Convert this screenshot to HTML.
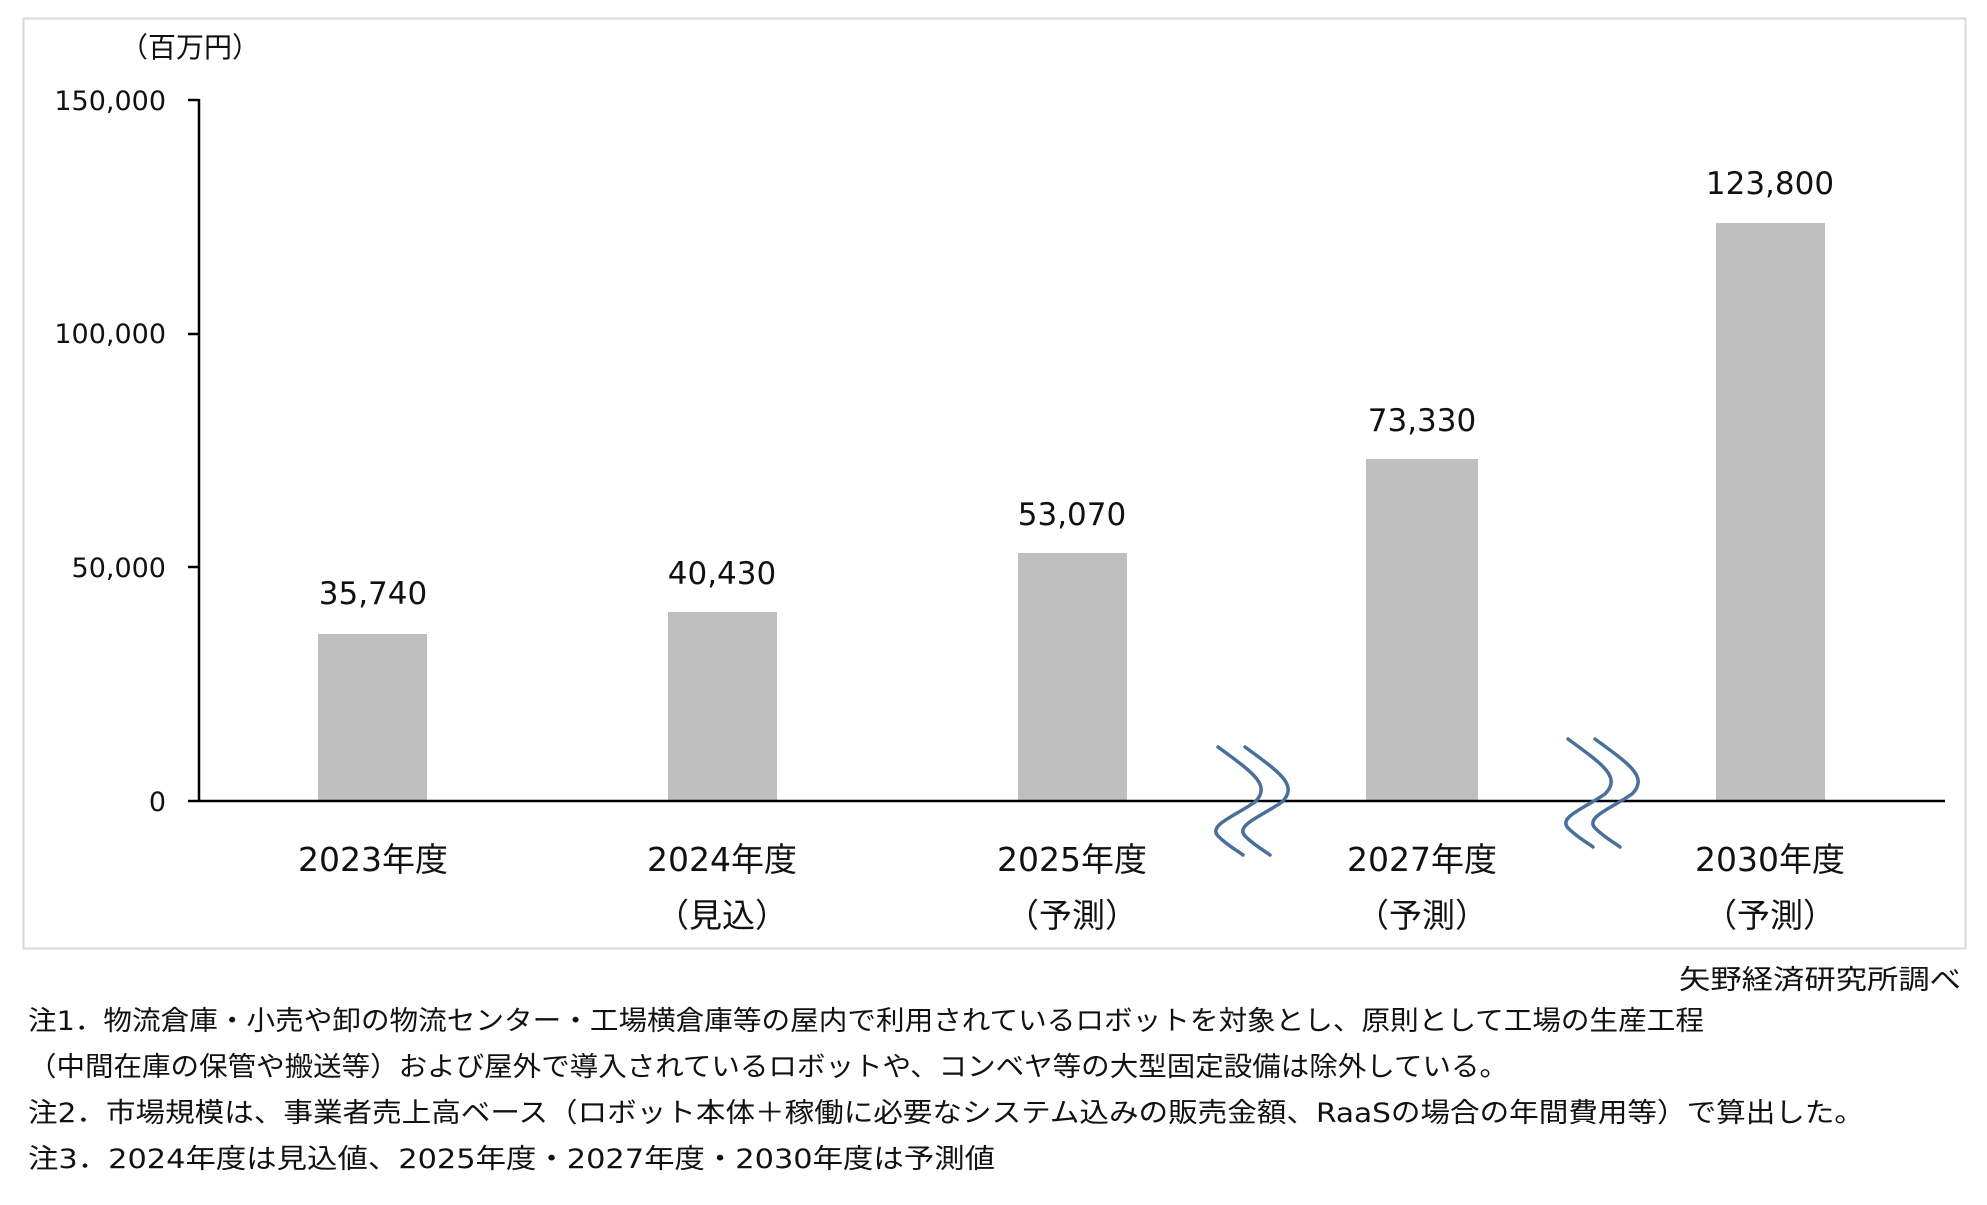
<!DOCTYPE html>
<html><head><meta charset="utf-8"><style>
html,body{margin:0;padding:0;background:#fff}
svg text{font-family:"DejaVu Sans","Noto Sans CJK JP",sans-serif;fill:#111}
</style></head><body>
<svg width="1987" height="1200" viewBox="0 0 1987 1200" xmlns="http://www.w3.org/2000/svg">
<rect x="23.5" y="18.5" width="1942" height="930" fill="none" stroke="#d8d8d8" stroke-width="2"/>
<text x="190" y="57" font-size="28" text-anchor="middle">（百万円）</text>
<g font-size="27" text-anchor="end">
<text x="166" y="110">150,000</text>
<text x="166" y="343">100,000</text>
<text x="166" y="577">50,000</text>
<text x="166" y="811">0</text>
</g>
<g stroke="#000" stroke-width="2.5">
<line x1="199" y1="99" x2="199" y2="801"/>
<line x1="188" y1="100" x2="199" y2="100"/>
<line x1="188" y1="334" x2="199" y2="334"/>
<line x1="188" y1="567" x2="199" y2="567"/>
</g>
<g fill="#bfbfbf">
<rect x="318" y="634" width="109" height="167"/>
<rect x="668" y="612" width="109" height="189"/>
<rect x="1018" y="553" width="109" height="248"/>
<rect x="1366" y="459" width="112" height="342"/>
<rect x="1716" y="223" width="109" height="578"/>
</g>
<line x1="188" y1="801" x2="1945" y2="801" stroke="#000" stroke-width="2.5"/>
<g font-size="31" text-anchor="middle">
<text x="373" y="604">35,740</text>
<text x="722" y="584">40,430</text>
<text x="1072" y="525">53,070</text>
<text x="1422" y="431">73,330</text>
<text x="1770" y="194">123,800</text>
</g>
<g font-size="33" text-anchor="middle">
<text x="373" y="871">2023年度</text>
<text x="722" y="871">2024年度</text>
<text x="1072" y="871">2025年度</text>
<text x="1422" y="871">2027年度</text>
<text x="1770" y="871">2030年度</text>
<text x="722" y="927">（見込）</text>
<text x="1072" y="927">（予測）</text>
<text x="1422" y="927">（予測）</text>
<text x="1770" y="927">（予測）</text>
</g>
<g fill="none" stroke="#4a6f9a" stroke-width="3.5" stroke-linecap="round">
<path d="M1218,747 C1252,772 1272,785 1255,802 C1235,816 1208,825 1218,836 C1228,846 1238,851 1243,855"/>
<path d="M1245,747 C1279,772 1299,785 1282,802 C1262,816 1235,825 1245,836 C1255,846 1265,851 1270,855"/>
<path d="M1568,739 C1602,764 1622,777 1605,794 C1585,808 1558,817 1568,828 C1578,838 1588,843 1593,847"/>
<path d="M1595,739 C1629,764 1649,777 1632,794 C1612,808 1585,817 1595,828 C1605,838 1615,843 1620,847"/>
</g>
<g font-size="27" lengthAdjust="spacingAndGlyphs">
<text x="1679" y="989" textLength="282" lengthAdjust="spacingAndGlyphs">矢野経済研究所調べ</text>
<text x="28" y="1030" textLength="1676" lengthAdjust="spacingAndGlyphs">注1．物流倉庫・小売や卸の物流センター・工場横倉庫等の屋内で利用されているロボットを対象とし、原則として工場の生産工程</text>
<text x="28" y="1076" textLength="1480" lengthAdjust="spacingAndGlyphs">（中間在庫の保管や搬送等）および屋外で導入されているロボットや、コンベヤ等の大型固定設備は除外している。</text>
<text x="28" y="1122" textLength="1836" lengthAdjust="spacingAndGlyphs">注2．市場規模は、事業者売上高ベース（ロボット本体＋稼働に必要なシステム込みの販売金額、RaaSの場合の年間費用等）で算出した。</text>
<text x="28" y="1168" textLength="967" lengthAdjust="spacingAndGlyphs">注3．2024年度は見込値、2025年度・2027年度・2030年度は予測値</text>
</g>
</svg>
</body></html>
